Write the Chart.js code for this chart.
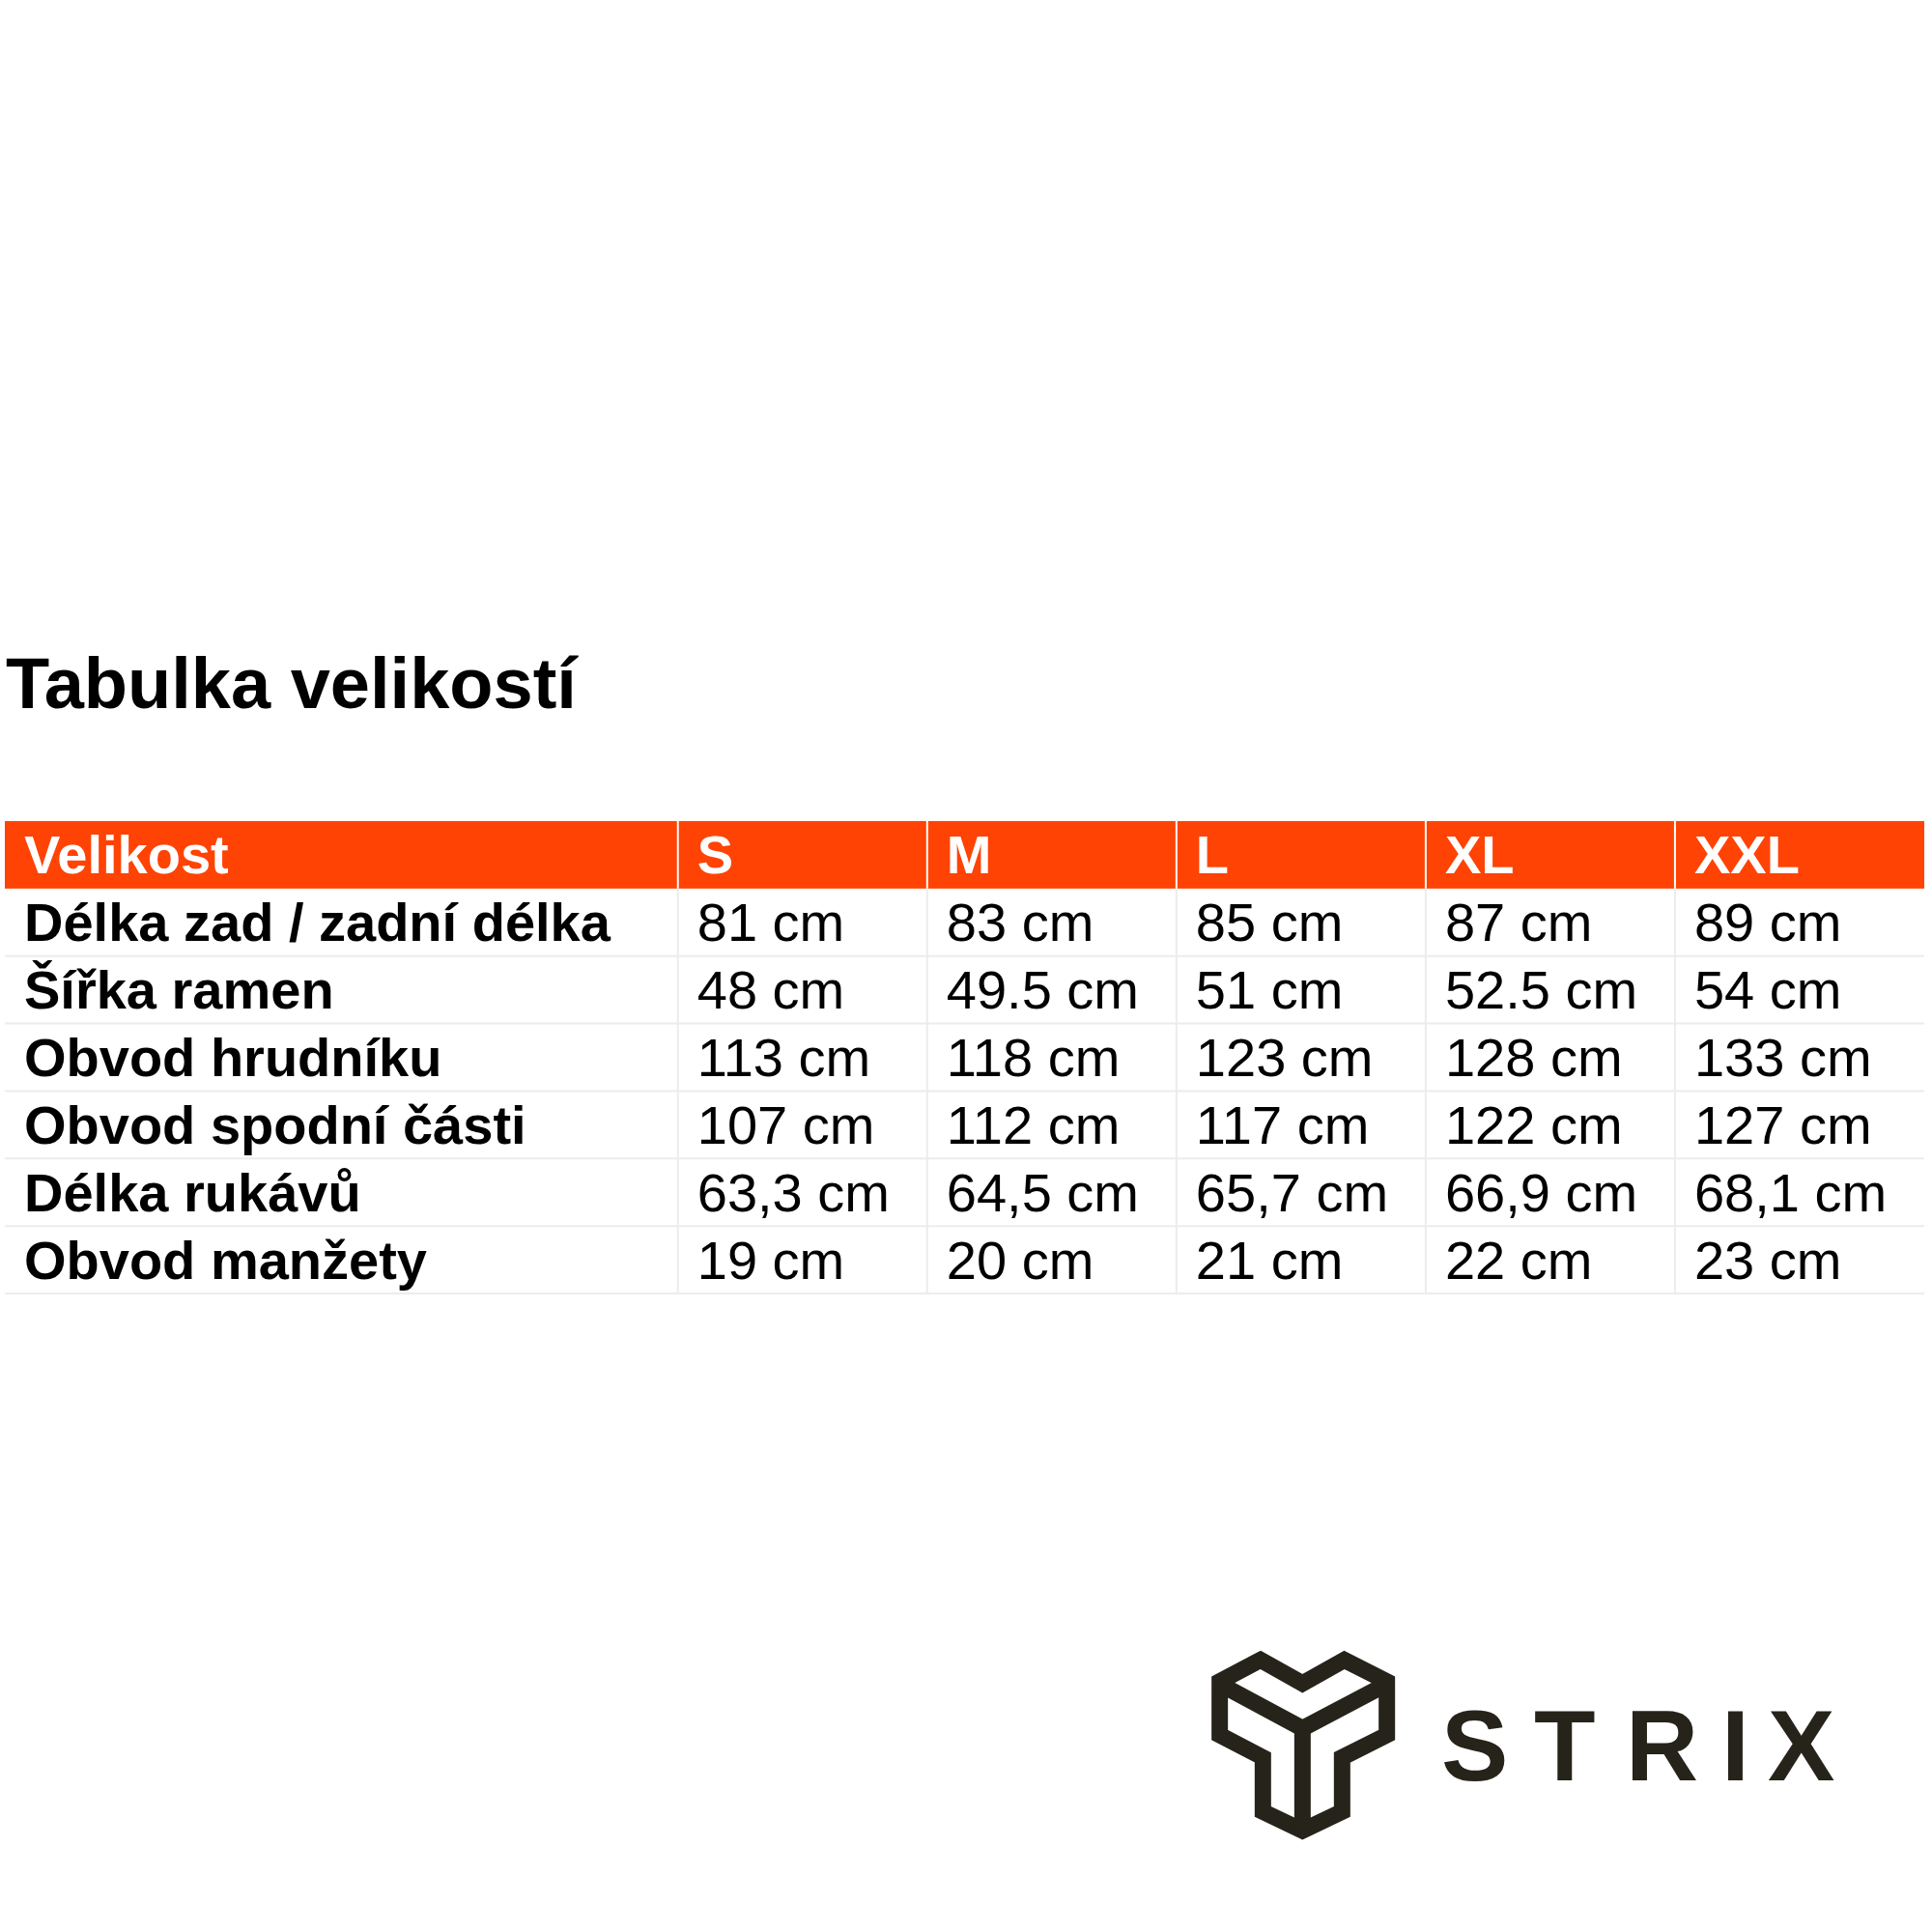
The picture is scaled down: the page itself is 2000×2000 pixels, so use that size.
<!DOCTYPE html>
<html>
<head>
<meta charset="utf-8">
<script src="https://cdn.jsdelivr.net/npm/chart.js@4.4.0/dist/chart.umd.min.js"></script>
<style>
  html, body { margin: 0; padding: 0; background: #fff; }
  #wrap { width: 2000px; height: 2000px; }
</style>
</head>
<body>
<div id="wrap"><canvas id="chart" width="2000" height="2000"></canvas></div>
<script>
const title = 'Tabulka velikostí';
const sizes = ['S', 'M', 'L', 'XL', 'XXL'];
const headerLabel = 'Velikost';
const measures = ['Délka zad / zadní délka', 'Šířka ramen', 'Obvod hrudníku', 'Obvod spodní části', 'Délka rukávů', 'Obvod manžety'];
const backLength = ['81 cm', '83 cm', '85 cm', '87 cm', '89 cm'];
const shoulderWidth = ['48 cm', '49.5 cm', '51 cm', '52.5 cm', '54 cm'];
const chest = ['113 cm', '118 cm', '123 cm', '128 cm', '133 cm'];
const hem = ['107 cm', '112 cm', '117 cm', '122 cm', '127 cm'];
const sleeve = ['63,3 cm', '64,5 cm', '65,7 cm', '66,9 cm', '68,1 cm'];
const cuff = ['19 cm', '20 cm', '21 cm', '22 cm', '23 cm'];
const values = [backLength, shoulderWidth, chest, hem, sleeve, cuff];

// first column is 2.7 units wide, the size columns 1 unit each
const colEdges = [0, 2.7, 3.7, 4.7, 5.7, 6.7, 7.7];
const rowLabels = [headerLabel, ...measures];

const tablePlugin = {
  id: 'table',
  afterDraw(chart) {
    const ctx = chart.ctx;
    const x = chart.scales.x, y = chart.scales.y;
    const band = (y.bottom - y.top) / rowLabels.length;
    const font = "'Liberation Sans', Arial, sans-serif";

    ctx.save();
    // title
    ctx.fillStyle = '#000';
    ctx.font = 'bold 74px ' + font;
    ctx.textBaseline = 'alphabetic';
    ctx.fillText(title, 6, 733);

    rowLabels.forEach((lab, r) => {
      const cy = y.getPixelForValue(r);
      const top = cy - band / 2;
      if (r === 0) {
        ctx.fillStyle = '#ff4304';
        ctx.fillRect(x.left, top, x.right - x.left, band);
      }
      // grid lines
      ctx.strokeStyle = r === 0 ? '#ffffff' : '#ececec';
      ctx.lineWidth = 2;
      for (let c = 1; c < colEdges.length - 1; c++) {
        const px = x.getPixelForValue(colEdges[c]);
        ctx.beginPath(); ctx.moveTo(px, top); ctx.lineTo(px, top + band); ctx.stroke();
      }
      if (r > 0) {
        ctx.strokeStyle = '#ececec';
        ctx.beginPath(); ctx.moveTo(x.left, top + band); ctx.lineTo(x.right, top + band); ctx.stroke();
      }
      const cells = [lab, ...(r === 0 ? sizes : values[r - 1])];
      ctx.textBaseline = 'middle';
      cells.forEach((t, c) => {
        const bold = r === 0 || c === 0;
        ctx.font = (bold ? 'bold ' : '') + '56px ' + font;
        ctx.fillStyle = r === 0 ? '#ffffff' : '#000000';
        ctx.fillText(t, x.getPixelForValue(colEdges[c]) + 20, cy + 4);
      });
    });

    // logo
    const pts = [[195,85],[68,152],[68,318],[202,388],[202,556],[325,615],[448,556],[448,388],[587,318],[587,152],[455,85],[325,158]];
    const tr = p => [p[0] / 3 + 1240, p[1] / 3 + 1690];
    ctx.strokeStyle = '#26241a';
    ctx.lineWidth = 17;
    ctx.lineJoin = 'miter';
    ctx.beginPath();
    pts.forEach((p, i) => { const q = tr(p); i ? ctx.lineTo(q[0], q[1]) : ctx.moveTo(q[0], q[1]); });
    ctx.closePath(); ctx.stroke();
    ctx.beginPath();
    let q = tr([68,160]); ctx.moveTo(q[0], q[1]);
    q = tr([325,298]); ctx.lineTo(q[0], q[1]);
    q = tr([587,160]); ctx.lineTo(q[0], q[1]);
    ctx.stroke();
    ctx.beginPath();
    q = tr([325,298]); ctx.moveTo(q[0], q[1]);
    q = tr([325,615]); ctx.lineTo(q[0], q[1]);
    ctx.stroke();

    ctx.fillStyle = '#26241a';
    ctx.font = 'bold 104px ' + font;
    ctx.textBaseline = 'alphabetic';
    const letters = ['S', 'T', 'R', 'I', 'X'];
    const lx = [1492, 1588, 1683, 1782, 1830];
    letters.forEach((l, i) => ctx.fillText(l, lx[i], 1843));
    ctx.restore();
  }
};

new Chart(document.getElementById('chart'), {
  type: 'scatter',
  data: { datasets: [{ data: [] }] },
  options: {
    responsive: false,
    animation: false,
    layout: { padding: { top: 850, bottom: 661, left: 5, right: 8 } },
    plugins: { legend: { display: false }, tooltip: { enabled: false } },
    scales: {
      x: { type: 'linear', min: colEdges[0], max: colEdges[colEdges.length - 1], display: false },
      y: { type: 'category', labels: rowLabels, offset: true, display: false }
    }
  },
  plugins: [tablePlugin]
});
</script>
</body>
</html>
